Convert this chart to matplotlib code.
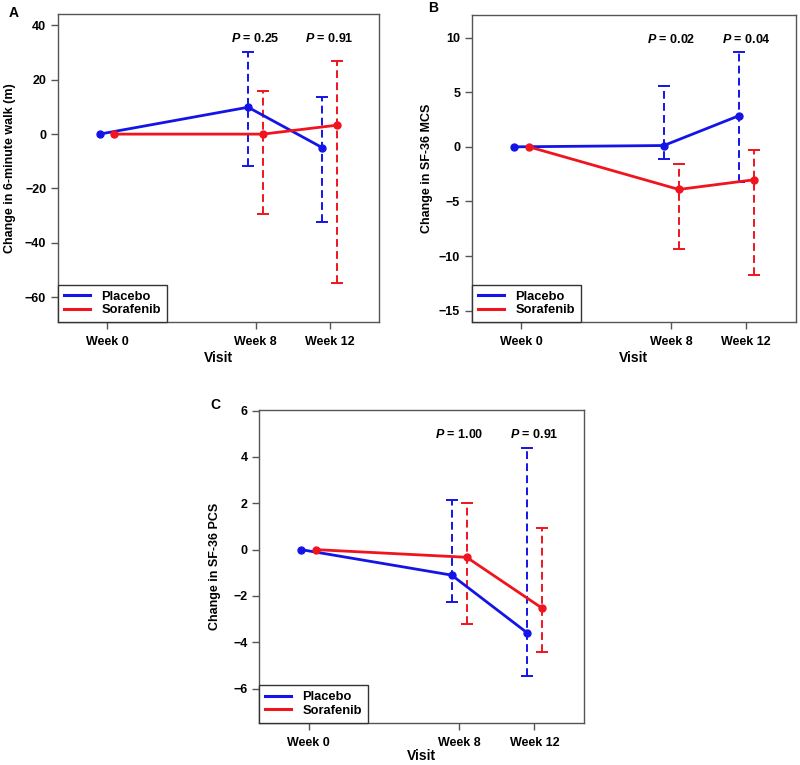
import numpy as np
import matplotlib
matplotlib.use('Agg')
from matplotlib import pyplot as plt

plt.rcParams['font.family'] = ['Liberation Sans', 'DejaVu Sans']
plt.rcParams['font.weight'] = 'bold'
plt.rcParams['mathtext.fontset'] = 'custom'
plt.rcParams['mathtext.it'] = 'Liberation Sans:italic:bold'
plt.rcParams['mathtext.rm'] = 'Liberation Sans:bold'

weeks = [0, 8, 12]
visit_labels = ['Week 0', 'Week 8', 'Week 12']
offset = 0.4

# panel A: 6-minute walk
a_placebo = [0, 9.9, -5.0]
a_placebo_lo = [0, -11.9, -32.4]
a_placebo_hi = [0, 30.1, 13.7]
a_sora = [0, 0, 3.3]
a_sora_lo = [0, -29.3, -55.0]
a_sora_hi = [0, 16.0, 26.8]
a_pvals = ['0.25', '0.91']

# panel B: SF-36 MCS
b_placebo = [0, 0.12, 2.84]
b_placebo_lo = [0, -1.07, -3.23]
b_placebo_hi = [0, 5.55, 8.69]
b_sora = [0, -3.9, -3.02]
b_sora_lo = [0, -9.39, -11.74]
b_sora_hi = [0, -1.55, -0.3]
b_pvals = ['0.02', '0.04']

# panel C: SF-36 PCS
c_placebo = [0, -1.1, -3.58]
c_placebo_lo = [0, -2.26, -5.46]
c_placebo_hi = [0, 2.16, 4.38]
c_sora = [0, -0.33, -2.52]
c_sora_lo = [0, -3.22, -4.42]
c_sora_hi = [0, 2.0, 0.94]
c_pvals = ['1.00', '0.91']

blue = '#1414e6'
red = '#f0141e'
spine_col = '#555555'
FIG_W, FIG_H = 800, 765


def draw_panel(ax, rect, pl, pl_lo, pl_hi, so, so_lo, so_hi, pvals, ylim, yticks, p_y,
               ylabel, ylab_px, xlab_px):
    x = np.array(weeks, dtype=float)
    for vals, lo, hi, col, dx, lab in [(pl, pl_lo, pl_hi, blue, -offset, 'Placebo'),
                                       (so, so_lo, so_hi, red, offset, 'Sorafenib')]:
        vals = np.array(vals)
        xs = x + dx
        ax.plot(xs, vals, color=col, linewidth=2.0, marker='o', markersize=5, label=lab, zorder=3)
        # error bars only at week 8 and 12
        err = [vals[1:] - np.array(lo[1:]), np.array(hi[1:]) - vals[1:]]
        eb = ax.errorbar(xs[1:], vals[1:], yerr=err, fmt='none', ecolor=col,
                         elinewidth=1.4, capsize=4.3, capthick=1.4, zorder=2)
        eb[2][0].set_linestyle((0, (4, 2.2)))
    for wk, p in zip(weeks[1:], pvals):
        ax.text(wk, p_y, r'$\mathit{P}$ = ' + p, ha='center', va='center', fontsize=9,
                fontweight='bold')
    ax.set_xlim(-2.64, 14.64)
    ax.set_ylim(*ylim)
    ax.set_xticks(weeks)
    ax.set_xticklabels(visit_labels)
    ax.set_yticks(yticks)
    ax.set_yticklabels([str(t).replace('-', '\u2212') for t in yticks])
    ax.tick_params(axis='both', labelsize=9, color=spine_col, length=5, width=1)
    ax.tick_params(axis='x', pad=5)
    for lab in ax.get_xticklabels() + ax.get_yticklabels():
        lab.set_fontweight('bold')
    for s in ax.spines.values():
        s.set_color(spine_col)
        s.set_linewidth(1)
    ax.set_xlabel('Visit', fontsize=10, fontweight='bold')
    ax.set_ylabel(ylabel, fontsize=9, fontweight='bold')
    w_px = rect[2] * FIG_W
    h_px = rect[3] * FIG_H
    ax.yaxis.set_label_coords(-ylab_px / w_px, 0.5)
    ax.xaxis.set_label_coords(0.5, -xlab_px / h_px)
    ax.xaxis.label.set_va('center')
    ax.yaxis.label.set_va('center')
    leg = ax.legend(loc='lower left', borderaxespad=0, fancybox=False, framealpha=1,
                    edgecolor='#333333', fontsize=9.3, handlelength=2.0,
                    borderpad=0.45, labelspacing=0.12, handletextpad=0.9)
    leg.get_frame().set_linewidth(1)
    for t in leg.get_texts():
        t.set_fontweight('bold')
    for h in leg.get_lines():
        h.set_marker('')
        h.set_linewidth(2.2)


fig = plt.figure(figsize=(8, 7.65), dpi=100)

rect_a = [0.0725, 0.579, 0.401, 0.4026]
ax_a = fig.add_axes(rect_a)
draw_panel(ax_a, rect_a, a_placebo, a_placebo_lo, a_placebo_hi, a_sora, a_sora_lo, a_sora_hi,
           a_pvals, (-69.2, 44.2), [-60, -40, -20, 0, 20, 40], 35.2,
           'Change in 6-minute walk (m)', 48, 36)

rect_b = [0.590, 0.579, 0.4046, 0.401]
ax_b = fig.add_axes(rect_b)
draw_panel(ax_b, rect_b, b_placebo, b_placebo_lo, b_placebo_hi, b_sora, b_sora_lo, b_sora_hi,
           b_pvals, (-16.04, 12.04), [-15, -10, -5, 0, 5, 10], 9.8,
           'Change in SF-36 MCS', 45, 36)

rect_c = [0.324, 0.0553, 0.406, 0.4088]
ax_c = fig.add_axes(rect_c)
draw_panel(ax_c, rect_c, c_placebo, c_placebo_lo, c_placebo_hi, c_sora, c_sora_lo, c_sora_hi,
           c_pvals, (-7.47, 6.03), [-6, -4, -2, 0, 2, 4, 6], 4.95,
           'Change in SF-36 PCS', 44, 33)

fig.text(14 / 800, 1 - 13 / 765, 'A', fontsize=10, fontweight='bold', ha='center', va='center')
fig.text(433 / 800, 1 - 8 / 765, 'B', fontsize=10, fontweight='bold', ha='center', va='center')
fig.text(215 / 800, 1 - 405 / 765, 'C', fontsize=10, fontweight='bold', ha='center', va='center')

fig.savefig('out.png', dpi=100)
